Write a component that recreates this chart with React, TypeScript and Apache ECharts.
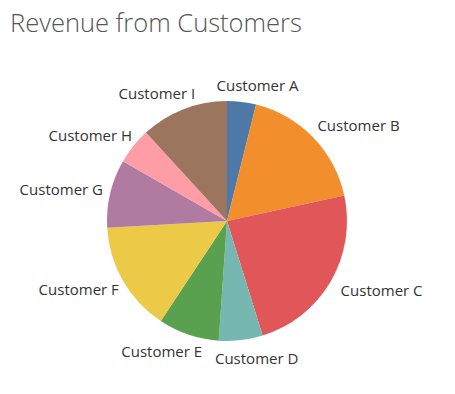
import React, { useEffect, useRef } from "react";
import * as echarts from "echarts";

const categories = [
  "Customer A",
  "Customer B",
  "Customer C",
  "Customer D",
  "Customer E",
  "Customer F",
  "Customer G",
  "Customer H",
  "Customer I",
];
const revenue = [39, 177, 236, 59, 82, 148, 92, 49, 118];
const colors = [
  "#4e79a7",
  "#f28e2b",
  "#e15759",
  "#76b7b2",
  "#59a14f",
  "#edc948",
  "#b07aa1",
  "#ff9da7",
  "#9c755f",
];

const CX = 219;
const CY = 221;

export default function App() {
  const ref = useRef<HTMLDivElement>(null);
  useEffect(() => {
    if (!ref.current) return;
    const chart = echarts.init(ref.current, null, { renderer: "svg" });
    chart.setOption({
      animation: false,
      title: {
        text: "Revenue from Customers",
        left: 2,
        top: 9,
        padding: 0,
        textStyle: {
          fontFamily: "Open Sans",
          fontWeight: 300,
          fontSize: 25.5,
          color: "#555",
        },
      },
      series: [
        {
          type: "pie",
          center: [CX, CY],
          radius: 120,
          startAngle: 90,
          clockwise: true,
          avoidLabelOverlap: false,
          itemStyle: { borderWidth: 0 },
          label: {
            show: true,
            position: "outside",
            fontFamily: "Open Sans",
            fontSize: 15,
            color: "#333",
          },
          labelLine: { show: false, length: 10, length2: 0 },
          labelLayout: (params: any) => {
            const r = params.labelRect;
            const px = params.align === "left" ? r.x : r.x + r.width;
            const py = r.y + r.height / 2;
            const dx = px - CX;
            const dy = py - CY;
            const len = Math.sqrt(dx * dx + dy * dy) || 1;
            const ux = dx / len;
            const uy = dy / len;
            const shift =
              ux > 0 ? -8 * (1 - ux) : 7 * Math.min(1, Math.abs(ux) * 2.2);
            return {
              x:
                px +
                Math.sign(ux) * (r.width / 2) * Math.sqrt(Math.abs(ux)) +
                shift,
              y: py + uy * (r.height / 2),
              align: "center",
              verticalAlign: "middle",
            };
          },
          data: categories.map((name, i) => ({
            name,
            value: revenue[i],
            itemStyle: { color: colors[i] },
          })),
        },
      ],
    });
    return () => chart.dispose();
  }, []);
  return (
    <div ref={ref} style={{ width: 439, height: 386, marginTop: -8 }} />
  );
}
